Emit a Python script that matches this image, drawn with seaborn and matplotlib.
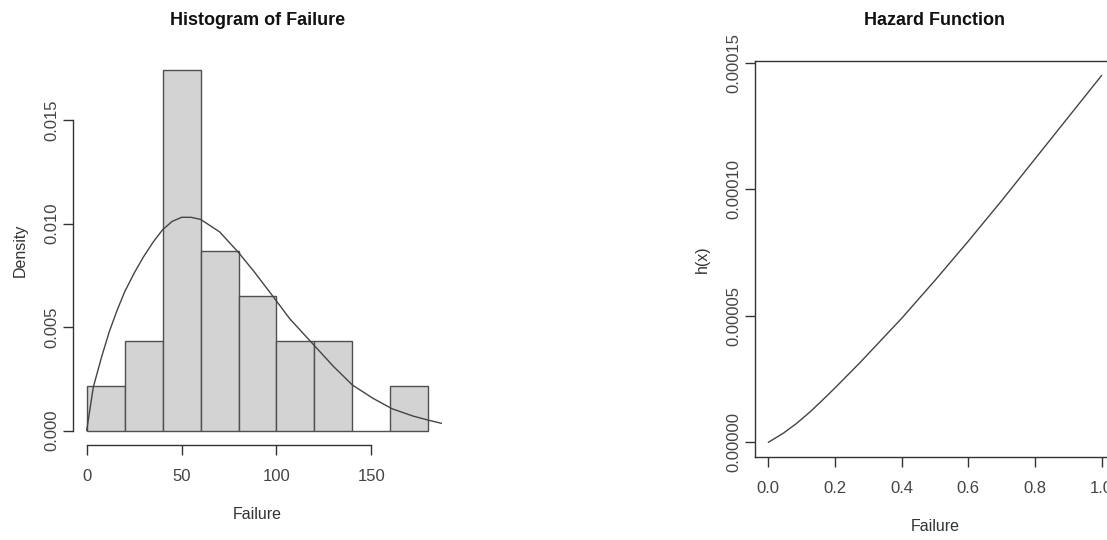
import numpy as np
import pandas as pd
import matplotlib
matplotlib.use("Agg")
import matplotlib.pyplot as plt
import seaborn as sns

# ---------------- data ----------------
bin_edges = [0, 20, 40, 60, 80, 100, 120, 140, 160, 180]
bin_counts = [1, 2, 8, 4, 3, 2, 2, 0, 1]

dens_x = [0, 3.5, 8, 12, 16, 20, 25, 30, 35, 40, 45, 50, 55, 60, 65, 70, 75, 80,
          88, 98, 107, 117, 121, 130, 140, 151, 161, 172, 181, 187]
dens_y = [0, 0.0021, 0.0036, 0.0048, 0.0058, 0.0067, 0.0076, 0.0084, 0.0091,
          0.0097, 0.0101, 0.0103, 0.0103, 0.0102, 0.0099, 0.0096, 0.0091,
          0.0086, 0.0077, 0.0065, 0.0054, 0.0044, 0.0040, 0.0031, 0.0022,
          0.00155, 0.00105, 0.0007, 0.00048, 0.00035]

haz_x = [0, 0.045, 0.085, 0.125, 0.165, 0.2, 0.275, 0.4, 0.5, 0.6, 0.7, 0.8, 0.9, 1.0]
haz_y = [0, 3.6e-6, 7.5e-6, 1.2e-5, 1.7e-5, 2.15e-5, 3.15e-5, 4.9e-5, 6.4e-5,
         7.95e-5, 9.55e-5, 1.12e-4, 1.285e-4, 1.45e-4]

hist_xticks = [0, 50, 100, 150]
hist_yticks = [0.000, 0.005, 0.010, 0.015]
haz_xticks = [0.0, 0.2, 0.4, 0.6, 0.8, 1.0]
haz_yticks = [0.0, 0.00005, 0.00010, 0.00015]

# ---------------- style ----------------
sns.set_style("white")
plt.rcParams['font.family'] = ['Liberation Sans', 'DejaVu Sans']
plt.rcParams['axes.edgecolor'] = '#333333'
plt.rcParams['axes.linewidth'] = 1.0

W, H = 1107, 540
fig = plt.figure(figsize=(W / 100, H / 100), dpi=100)
fig.patch.set_facecolor('white')

def frac(l, r, t, b):
    return [l / W, 1 - b / H, (r - l) / W, (b - t) / H]

ax1 = fig.add_axes(frac(73, 442, 56, 445))
ax2 = fig.add_axes(frac(755, 1115, 60.7, 457))

# ---------------- histogram ----------------
mids = [(a + b) / 2 for a, b in zip(bin_edges[:-1], bin_edges[1:])]
hdf = pd.DataFrame({"Failure": mids, "count": bin_counts})
sns.histplot(data=hdf, x="Failure", weights="count", bins=bin_edges,
             stat="density", ax=ax1, color="#d3d3d3", alpha=1.0,
             edgecolor="#505050", linewidth=1.0)
ddf = pd.DataFrame({"x": dens_x, "y": dens_y})
sns.lineplot(data=ddf, x="x", y="y", ax=ax1, color="#444444", linewidth=1.0,
             sort=False, estimator=None)

ax1.set_xlim(-7.2, 187.2)
ax1.set_ylim(-0.000696, 0.01809)
ax1.set_xticks(hist_xticks)
ax1.set_xticklabels([str(t) for t in hist_xticks])
ax1.set_yticks(hist_yticks)
ax1.set_yticklabels([f"{t:.3f}" for t in hist_yticks], rotation=90, va='center')
for s in ['top', 'right']:
    ax1.spines[s].set_visible(False)
ax1.spines['bottom'].set_bounds(0, 150)
ax1.spines['left'].set_bounds(0, 0.015)
ax1.set_xlabel("Failure", fontsize=11.5, color='#333333', labelpad=17)
ax1.set_ylabel("Density", fontsize=11.5, color='#333333', labelpad=12)
ax1.set_title("Histogram of Failure", fontsize=13, fontweight='bold',
              color='#111111', pad=22)

# ---------------- hazard ----------------
hz = pd.DataFrame({"x": haz_x, "y": haz_y})
sns.lineplot(data=hz, x="x", y="y", ax=ax2, color="#444444", linewidth=1.0,
             sort=False, estimator=None)
ax2.set_xlim(-0.04, 1.04)
ax2.set_ylim(-5.8e-6, 1.508e-4)
ax2.set_xticks(haz_xticks)
ax2.set_xticklabels([f"{t:.1f}" for t in haz_xticks])
ax2.set_yticks(haz_yticks)
ax2.set_yticklabels([f"{t:.5f}" for t in haz_yticks], rotation=90, va='center')
for s in ['top', 'right', 'left', 'bottom']:
    ax2.spines[s].set_visible(True)
ax2.set_xlabel("Failure", fontsize=11.5, color='#333333', labelpad=17)
ax2.set_ylabel("h(x)", fontsize=11.5, color='#333333', labelpad=12)
ax2.set_title("Hazard Function", fontsize=13, fontweight='bold',
              color='#111111', pad=26)

for ax in (ax1, ax2):
    ax.tick_params(axis='both', direction='out', length=7, width=1.0,
                   color='#333333', labelcolor='#444444', labelsize=12,
                   bottom=True, left=True)
    ax.tick_params(axis='x', pad=10)
    ax.tick_params(axis='y', pad=3)
    ax.grid(False)

fig.savefig("out.png", dpi=100, facecolor='white')
